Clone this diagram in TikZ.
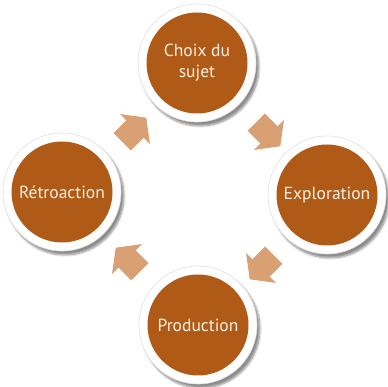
\documentclass[tikz,border=0pt]{standalone}
\usepackage{fontspec}
\setmainfont{PT Sans}
\usetikzlibrary{shapes.arrows,shadows.blur}
\definecolor{rouille}{HTML}{B05A17}
\definecolor{peche}{HTML}{D9A073}
\definecolor{creme}{HTML}{FAF0E1}
\begin{document}
\begin{tikzpicture}[x=1pt,y=1pt,
  ring/.style={circle,fill=white,draw=black!12,line width=0.6pt,minimum size=118pt,inner sep=0pt,
    blur shadow={shadow xshift=3pt,shadow yshift=-4pt,shadow blur steps=8,shadow opacity=45}},
  stage/.style={circle,fill=rouille,minimum size=101pt,inner sep=0pt,text=creme,
    font=\fontsize{17.5}{21}\selectfont,align=center},
  flow/.style={single arrow,fill=peche,inner xsep=0pt,inner ysep=12pt,minimum height=34pt,
    single arrow head extend=9pt,single arrow tip angle=106}]

\useasboundingbox (0,0) rectangle (387,387);

\node (anneau1) at (197,324)[ring]{};
\node (anneau2) at (327,192)[ring]{};
\node (anneau3) at (198,62)[ring]{};
\node (anneau4) at (62,195)[ring]{};

\node (choix) at (197,324)[stage]{Choix du\\sujet};
\node (explo) at (327,192)[stage]{Exploration};
\node (prod) at (198,62)[stage]{Production};
\node (retro) at (62,195)[stage]{Rétroaction};

% fleches entre les etapes
\foreach \x/\y/\a [count=\i] in {131/254/45, 265/256/-45, 265/123/-135, 131/124/135}
{
\node (fleche\i) at (\x,\y)[flow,rotate=\a]{};
}

\end{tikzpicture}
\end{document}
